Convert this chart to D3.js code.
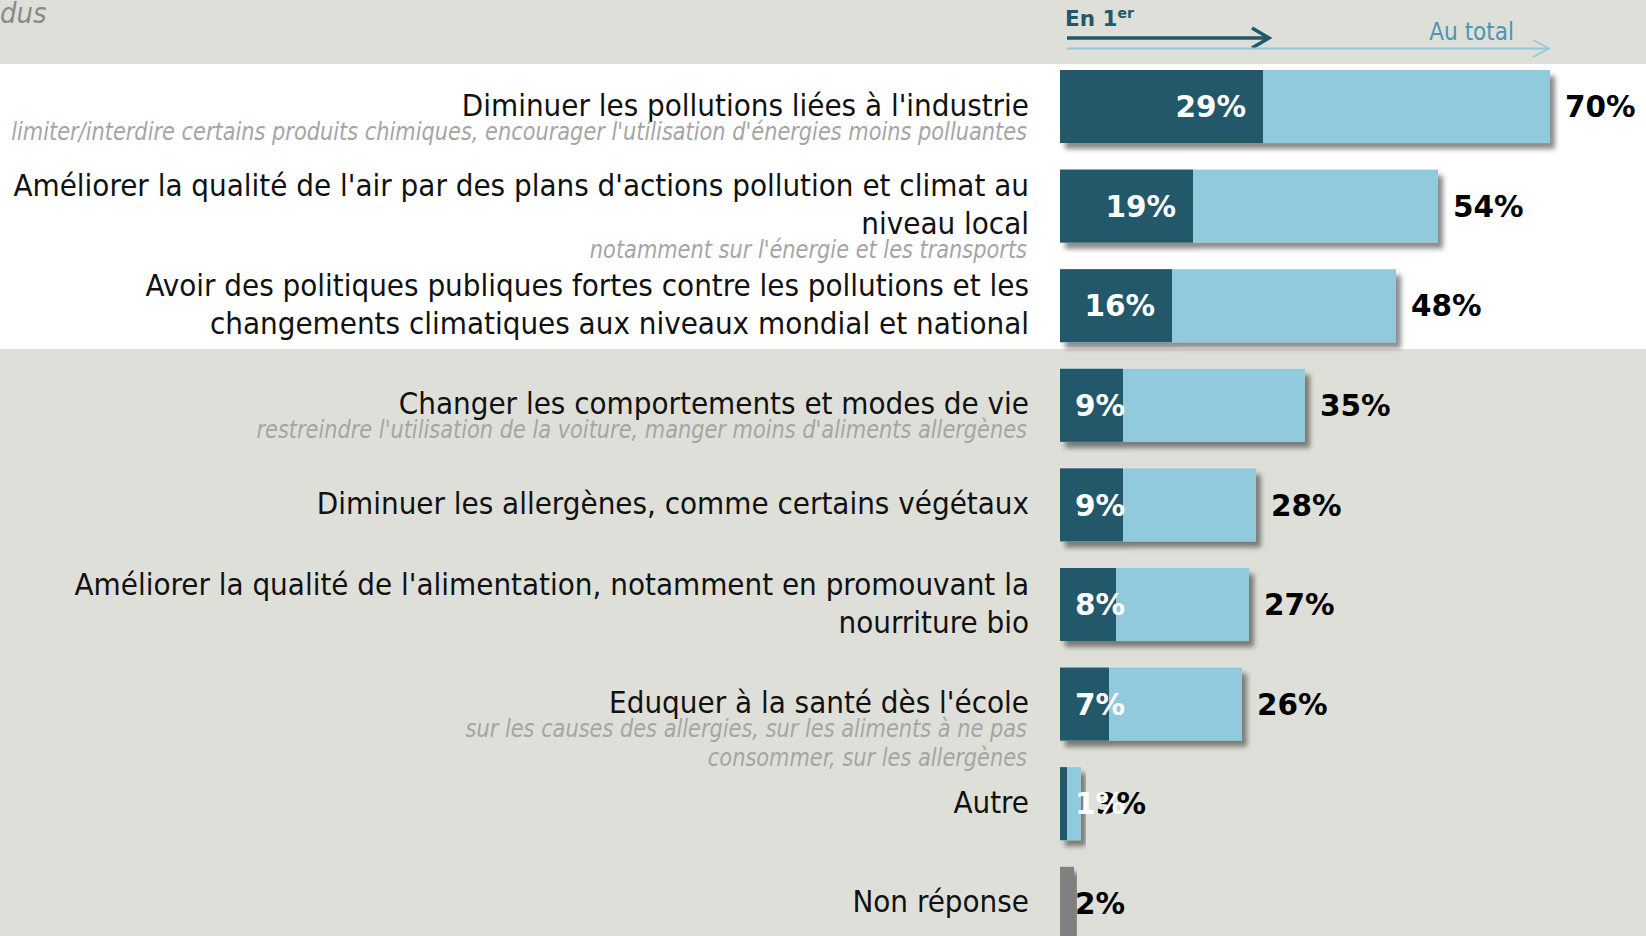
<!DOCTYPE html>
<html>
<head>
<meta charset="utf-8">
<script src="https://cdn.jsdelivr.net/npm/d3@7"></script>
<style>
  html, body { margin: 0; padding: 0; background: #dfdfd9; overflow: hidden; }
  svg { display: block; }
</style>
</head>
<body>
<svg width="1646" height="936"></svg>
<script>
// categories (main label lines as they wrap in the original)
const categories = ["industrie", "air", "politiques", "comportements", "allergenes", "alimentation", "ecole", "autre", "nr"];
const labelLines = [
  ["Diminuer les pollutions liées à l'industrie"],
  ["Améliorer la qualité de l'air par des plans d'actions pollution et climat au", "niveau local"],
  ["Avoir des politiques publiques fortes contre les pollutions et les", "changements climatiques aux niveaux mondial et national"],
  ["Changer les comportements et modes de vie"],
  ["Diminuer les allergènes, comme certains végétaux"],
  ["Améliorer la qualité de l'alimentation, notamment en promouvant la", "nourriture bio"],
  ["Eduquer à la santé dès l'école"],
  ["Autre"],
  ["Non réponse"]
];
const subLines = [
  ["limiter/interdire certains produits chimiques, encourager l'utilisation d'énergies moins polluantes"],
  ["notamment sur l'énergie et les transports"],
  [],
  ["restreindre l'utilisation de la voiture, manger moins d'aliments allergènes"],
  [],
  [],
  ["sur les causes des allergies, sur les aliments à ne pas", "consommer, sur les allergènes"],
  [],
  []
];
// % cited first / % cited in total (null = single gray bar)
const firstValues = [29, 19, 16, 9, 9, 8, 7, 1, 2];
const totalValues = [70, 54, 48, 35, 28, 27, 26, 3, null];

const W = 1646, H = 936;
const dark = "#21586a", light = "#92cadd", bg = "#dfdfd9";
const labelFont = "'DejaVu Sans Condensed', 'DejaVu Sans', sans-serif";
const numFont = "'DejaVu Sans', sans-serif";

const svg = d3.select("svg");

const defs = svg.append("defs");
const f = defs.append("filter").attr("id", "shadow")
  .attr("x", "-10%").attr("y", "-20%").attr("width", "130%").attr("height", "160%");
f.append("feDropShadow").attr("dx", 5).attr("dy", 6).attr("stdDeviation", 2.5)
  .attr("flood-color", "#000").attr("flood-opacity", 0.45);

// backgrounds
svg.append("rect").attr("width", W).attr("height", H).attr("fill", bg);
svg.append("rect").attr("y", 64).attr("width", W).attr("height", 285).attr("fill", "#ffffff");

// cut title fragment top-left
svg.append("text").attr("x", 0).attr("y", 23)
  .attr("font-family", labelFont).attr("font-style", "italic").attr("font-size", 29)
  .attr("fill", "#8a8a8a").text("dus");

const x = d3.scaleLinear().domain([0, 70]).range([1060, 1550]);
const y = d3.scaleBand().domain(categories).range([56.7, 953.1]).paddingInner(0.267).paddingOuter(0.1335);

// header arrows
const hdr = svg.append("g");
hdr.append("line").attr("x1", x(0) + 7).attr("x2", 1269).attr("y1", 38).attr("y2", 38)
  .attr("stroke", dark).attr("stroke-width", 3.5);
hdr.append("polyline").attr("points", "1252,28 1269,38 1252,48").attr("fill", "none")
  .attr("stroke", dark).attr("stroke-width", 3.5);
hdr.append("line").attr("x1", x(0) + 7).attr("x2", 1549).attr("y1", 48.5).attr("y2", 48.5)
  .attr("stroke", light).attr("stroke-width", 1.8);
hdr.append("polyline").attr("points", "1533,40 1549,48.5 1533,57").attr("fill", "none")
  .attr("stroke", light).attr("stroke-width", 1.8);
const en = hdr.append("text").attr("x", x(0) + 5).attr("y", 26)
  .attr("font-family", numFont).attr("font-weight", "bold").attr("font-size", 21.5).attr("fill", dark);
en.append("tspan").text("En 1");
en.append("tspan").attr("dy", -8).attr("font-size", 14).text("er");
hdr.append("text").attr("x", 1514).attr("y", 40).attr("text-anchor", "end")
  .attr("font-family", labelFont).attr("font-size", 24).attr("fill", "#4697b3").text("Au total");

// labels
const rows = svg.append("g").selectAll("g").data(categories).join("g")
  .attr("transform", d => `translate(0,${y(d) + y.bandwidth() / 2})`);

rows.each(function (d, i) {
  const g = d3.select(this);
  const main = labelLines[i];
  const top = 9 - (main.length - 1) * 19;
  main.forEach((line, j) => {
    g.append("text").attr("x", 1029).attr("y", top + j * 38).attr("text-anchor", "end")
      .attr("font-family", labelFont).attr("font-size", 31).attr("fill", "#111")
      .text(line);
  });
  const subTop = top + (main.length - 1) * 38 + 24;
  subLines[i].forEach((line, j) => {
    g.append("text").attr("text-anchor", "end")
      .attr("transform", `translate(1027,${subTop + j * 29}) scale(0.93,1)`)
      .attr("font-family", labelFont).attr("font-style", "italic").attr("font-size", 25)
      .attr("fill", "#a5a5a5").text(line);
  });
});

// bars
const bars = svg.append("g").selectAll("g").data(categories).join("g")
  .attr("filter", "url(#shadow)");

bars.each(function (d, i) {
  const g = d3.select(this);
  const tot = totalValues[i];
  if (tot != null) {
    g.append("rect").attr("x", x(0)).attr("y", y(d))
      .attr("width", x(tot) - x(0)).attr("height", y.bandwidth()).attr("fill", light);
  }
  g.append("rect").attr("x", x(0)).attr("y", y(d))
    .attr("width", x(firstValues[i]) - x(0)).attr("height", y.bandwidth())
    .attr("fill", tot != null ? dark : "#808080");
});

// value labels: totals first, then the "en 1er" labels on top
const vals = svg.append("g").attr("font-family", numFont).attr("font-weight", "bold").attr("font-size", 29.5);
categories.forEach((d, i) => {
  const tot = totalValues[i];
  if (tot != null) {
    vals.append("text").attr("x", x(tot) + 15).attr("y", y(d) + y.bandwidth() / 2).attr("dy", "0.36em")
      .attr("fill", "#000").text(tot + "%");
  }
});
categories.forEach((d, i) => {
  const tot = totalValues[i];
  const t = vals.append("text").attr("y", y(d) + y.bandwidth() / 2).attr("dy", "0.36em")
    .attr("fill", tot != null ? "#ffffff" : "#000")
    .text(firstValues[i] + "%");
  const w = t.node().getComputedTextLength();
  const endX = x(firstValues[i]) - 17;
  if (endX - w >= x(0) + 15) t.attr("x", endX).attr("text-anchor", "end");
  else t.attr("x", x(0) + 15);
});
</script>
</body>
</html>
